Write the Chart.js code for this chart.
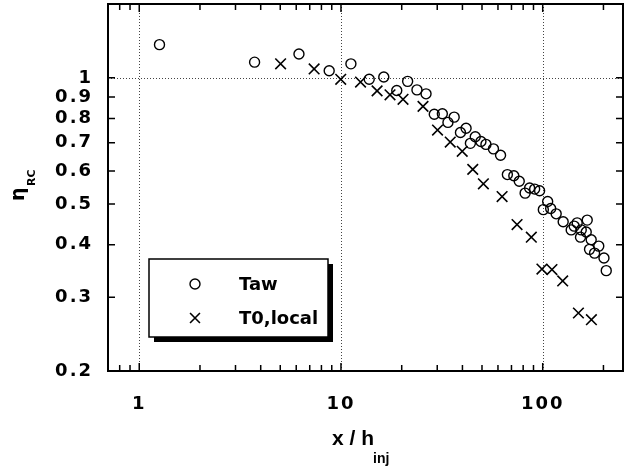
<!DOCTYPE html>
<html>
<head>
<meta charset="utf-8">
<script src="https://cdn.jsdelivr.net/npm/chart.js@4/dist/chart.umd.min.js"></script>
<style>
  html, body { margin: 0; padding: 0; background: #ffffff; }
  #wrap { width: 636px; height: 466px; }
</style>
</head>
<body>
<div id="wrap"><canvas id="c" width="636" height="466"></canvas></div>
<script>
// Film cooling effectiveness vs. normalised distance downstream of the injection slot
const tawX = [1.26, 3.73, 6.19, 8.74, 11.2, 13.8, 16.3, 18.9, 21.4, 23.8, 26.4, 29.0, 31.8, 33.9, 36.4, 39.1,
  41.7, 43.8, 46.3, 49.4, 52.3, 57.0, 61.8, 66.8, 71.9, 76.5, 81.8, 86.1, 91.2, 96.5, 100.7, 105.8,
  109.5, 116.6, 126.3, 138.4, 143.2, 148.2, 153.9, 155.2, 164.3, 166.2, 170.6, 173.9, 180.7, 189.6, 201.2, 206.5];
const tawY = [1.20, 1.09, 1.14, 1.04, 1.08, 0.992, 1.005, 0.933, 0.981, 0.936, 0.916, 0.819, 0.821, 0.783, 0.806, 0.741,
  0.758, 0.698, 0.724, 0.705, 0.694, 0.677, 0.654, 0.588, 0.584, 0.567, 0.531, 0.546, 0.543, 0.538, 0.485, 0.507,
  0.488, 0.474, 0.454, 0.434, 0.443, 0.451, 0.417, 0.434, 0.429, 0.458, 0.390, 0.411, 0.382, 0.397, 0.372, 0.347];

const t0X = [5.02, 7.36, 9.97, 12.5, 15.1, 17.5, 20.3, 25.5, 30.1, 34.8, 39.9, 45.0, 50.8, 62.9, 74.6, 87.8,
  99.1, 111.1, 125.6, 150.3, 174.3];
const t0Y = [1.08, 1.05, 0.992, 0.977, 0.931, 0.911, 0.889, 0.855, 0.751, 0.703, 0.668, 0.605, 0.559, 0.521, 0.447, 0.417,
  0.350, 0.349, 0.328, 0.275, 0.265];

const seriesLabels = ['Taw', 'T0,local'];

// Axis ticks
const xTickValues = [1, 10, 100];
const xMinorValues = [0.8, 0.9, 2, 3, 4, 5, 6, 7, 8, 9, 20, 30, 40, 50, 60, 70, 80, 90, 200];
const yTickValues = [0.2, 0.3, 0.4, 0.5, 0.6, 0.7, 0.8, 0.9, 1];
const yGridValues = [1];

const tickFont = { family: 'DejaVu Sans', size: 18, weight: 'bold' };

const toPoints = (xs, ys) => xs.map((x, i) => ({ x: x, y: ys[i] }));

// Frame, inward ticks, dotted reference lines, legend and axis titles
const plotDecor = {
  id: 'plotDecor',
  beforeDraw(chart) {
    chart.ctx.letterSpacing = '2px';
  },
  beforeDatasetsDraw(chart) {
    const { ctx, chartArea: a, scales } = chart;
    ctx.letterSpacing = '0px';
    ctx.save();
    ctx.strokeStyle = '#444';
    ctx.lineWidth = 1;
    ctx.setLineDash([1, 2]);
    ctx.beginPath();
    xTickValues.forEach(v => {
      const px = Math.round(scales.x.getPixelForValue(v)) + 0.5;
      ctx.moveTo(px, a.top); ctx.lineTo(px, a.bottom);
    });
    yGridValues.forEach(v => {
      const py = Math.round(scales.y.getPixelForValue(v)) + 0.5;
      ctx.moveTo(a.left, py); ctx.lineTo(a.right, py);
    });
    ctx.stroke();
    ctx.restore();
  },
  afterDatasetsDraw(chart) {
    const { ctx, chartArea: a, scales } = chart;
    ctx.save();
    ctx.strokeStyle = '#000';
    ctx.lineWidth = 1.5;
    ctx.beginPath();
    [...xTickValues, ...xMinorValues].forEach(v => {
      const px = scales.x.getPixelForValue(v);
      const len = xTickValues.includes(v) ? 8 : 6;
      ctx.moveTo(px, a.bottom); ctx.lineTo(px, a.bottom - len);
      ctx.moveTo(px, a.top); ctx.lineTo(px, a.top + len);
    });
    yTickValues.forEach(v => {
      const py = scales.y.getPixelForValue(v);
      ctx.moveTo(a.left, py); ctx.lineTo(a.left + 7, py);
      ctx.moveTo(a.right, py); ctx.lineTo(a.right - 7, py);
    });
    ctx.stroke();
    ctx.lineWidth = 2;
    ctx.strokeRect(a.left, a.top, a.right - a.left, a.bottom - a.top);

    // legend box with drop shadow
    const bx = 149, by = 259, bw = 179, bh = 78;
    ctx.fillStyle = '#000';
    ctx.fillRect(bx + 5, by + 5, bw, bh);
    ctx.fillStyle = '#fff';
    ctx.fillRect(bx, by, bw, bh);
    ctx.lineWidth = 1.5;
    ctx.strokeRect(bx, by, bw, bh);

    const rows = [
      { ds: chart.data.datasets[0], y: 284, r: 5 },
      { ds: chart.data.datasets[1], y: 318, r: 7 }
    ];
    rows.forEach(row => {
      ctx.strokeStyle = '#000';
      ctx.fillStyle = 'rgba(0,0,0,0)';
      ctx.lineWidth = row.ds.borderWidth;
      Chart.helpers.drawPoint(ctx, { pointStyle: row.ds.pointStyle, radius: row.r, rotation: 0, borderWidth: row.ds.borderWidth }, 195, row.y);
      ctx.fillStyle = '#000';
      ctx.font = 'bold 18px "DejaVu Sans"';
      ctx.textAlign = 'left';
      ctx.textBaseline = 'middle';
      ctx.fillText(row.ds.label, 239, row.y + 1);
    });
    ctx.restore();
  },
  afterDraw(chart) {
    const ctx = chart.ctx;
    ctx.save();
    ctx.fillStyle = '#000';
    ctx.textAlign = 'left';
    ctx.textBaseline = 'alphabetic';
    // x-axis title: x / h_inj
    ctx.font = 'bold 21px "Liberation Sans"';
    ctx.fillText('x / h', 332, 445);
    ctx.font = 'bold 14px "Liberation Sans"';
    ctx.fillText('inj', 373, 463);
    // y-axis title: eta_RC
    ctx.translate(24, 201);
    ctx.rotate(-Math.PI / 2);
    ctx.font = 'bold 19px "DejaVu Sans"';
    ctx.fillText('η', 0, 0);
    ctx.font = 'bold 11px "DejaVu Sans"';
    ctx.fillText('RC', 15, 11);
    ctx.restore();
  }
};

new Chart(document.getElementById('c'), {
  type: 'scatter',
  data: {
    datasets: [
      {
        label: seriesLabels[0],
        data: toPoints(tawX, tawY),
        pointStyle: 'circle',
        pointRadius: 5,
        pointHoverRadius: 5,
        borderWidth: 1.4,
        borderColor: '#000',
        backgroundColor: 'rgba(0,0,0,0)'
      },
      {
        label: seriesLabels[1],
        data: toPoints(t0X, t0Y),
        pointStyle: 'crossRot',
        pointRadius: 7.5,
        pointHoverRadius: 7.5,
        borderWidth: 1.6,
        borderColor: '#000',
        backgroundColor: 'rgba(0,0,0,0)'
      }
    ]
  },
  options: {
    responsive: false,
    animation: false,
    devicePixelRatio: 1,
    layout: { autoPadding: false, padding: { top: 4, right: 13, left: 0, bottom: 0 } },
    plugins: {
      legend: { display: false },
      tooltip: { enabled: false }
    },
    scales: {
      x: {
        type: 'logarithmic',
        position: 'bottom',
        min: 0.7,
        max: 250,
        grid: { display: false, drawTicks: false },
        border: { display: false },
        ticks: {
          color: '#000',
          font: tickFont,
          padding: 23,
          maxRotation: 0,
          autoSkip: false,
          callback: v => String(v)
        },
        afterBuildTicks: s => { s.ticks = xTickValues.map(v => ({ value: v })); },
        afterFit: s => { s.height = 95; s.paddingLeft = 0; s.paddingRight = 0; }
      },
      y: {
        type: 'logarithmic',
        position: 'left',
        min: 0.2,
        max: 1.5,
        grid: { display: false, drawTicks: false },
        border: { display: false },
        ticks: {
          color: '#000',
          font: tickFont,
          padding: 15,
          autoSkip: false,
          callback: v => String(v)
        },
        afterBuildTicks: s => { s.ticks = yTickValues.map(v => ({ value: v })); },
        afterFit: s => { s.width = 108; s.paddingTop = 0; s.paddingBottom = 0; }
      }
    }
  },
  plugins: [plotDecor]
});
</script>
</body>
</html>
